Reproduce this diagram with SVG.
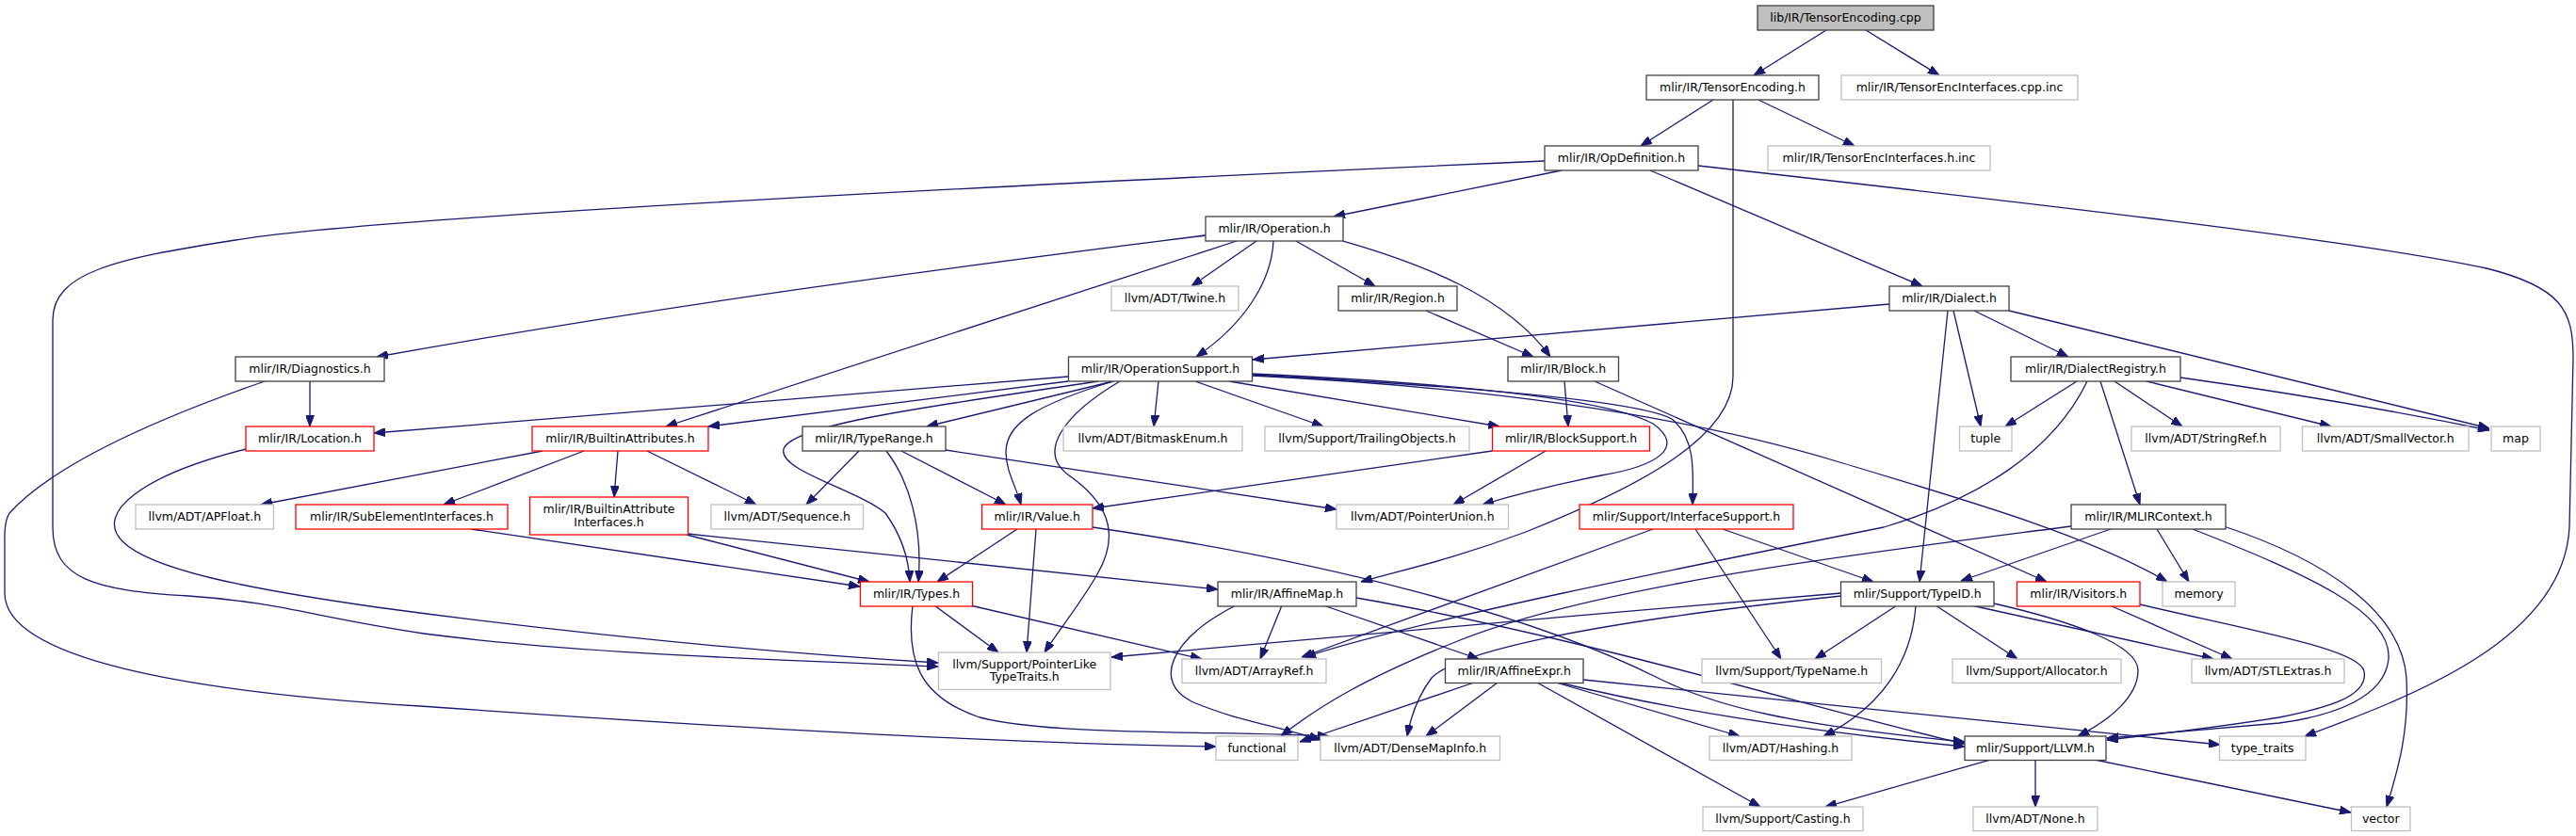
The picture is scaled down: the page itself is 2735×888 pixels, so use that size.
<svg xmlns="http://www.w3.org/2000/svg" width="2735" height="888" viewBox="0 0 2735 888">
<defs>
<style>
.n rect{fill:#fff;stroke:#404040;stroke-width:1.3}
.g rect{fill:#fff;stroke:#bfbfbf;stroke-width:1.3}
.r rect{fill:#fff;stroke:#ff0000;stroke-width:1.3}
.root rect{fill:#bfbfbf;stroke:#404040;stroke-width:1.3}
text{font-family:"DejaVu Sans","Liberation Sans",sans-serif;font-size:12.5px;fill:#000;text-anchor:middle}
#edges path{fill:none;stroke:#191970;stroke-width:1.3;marker-end:url(#a)}
</style>
<marker id="a" markerWidth="12" markerHeight="9" refX="12" refY="4.5" orient="auto" markerUnits="userSpaceOnUse"><path d="M0,0 L12,4.5 L0,9 z" fill="#191970" stroke="#191970" stroke-width="1"/></marker>
</defs>
<rect width="2735" height="888" fill="#fff"/>
<g id="edges">
<path d="M1939,32 L1862,80"/>
<path d="M1981,32 L2059,80"/>
<path d="M1819,106 L1742,155"/>
<path d="M1867,106 L1969,155"/>
<path d="M1840,106 L1840,400 C1840,470 1720,525 1620,565 C1540,595 1490,605 1445,618"/>
<path d="M1658,181 L1416,230"/>
<path d="M1752,181 L2041,304"/>
<path d="M1803,176 C2150,215 2500,255 2640,285 C2720,305 2732,330 2732,380 L2728,560 C2722,680 2560,740 2447,782"/>
<path d="M1640,171 C1100,195 400,230 250,255 C120,275 56,290 56,340 L56,560 C56,615 100,627 200,633 C300,640 330,655 450,673 C600,693 800,700 996,708"/>
<path d="M1280,250 C1000,285 700,325 400,379"/>
<path d="M1313,256 L707,453"/>
<path d="M1334,256 L1265,304"/>
<path d="M1352,256 C1350,300 1320,345 1270,379"/>
<path d="M1376,256 L1460,304"/>
<path d="M1426,256 C1510,280 1600,315 1646,379"/>
<path d="M1514,330 L1628,379"/>
<path d="M2006,323 L1330,382"/>
<path d="M2074,330 L2103,453"/>
<path d="M2096,330 L2196,379"/>
<path d="M2133,330 L2643,455"/>
<path d="M2068,330 L2038,618"/>
<path d="M2205,405 L2129,453"/>
<path d="M2245,405 L2317,453"/>
<path d="M2279,405 L2475,453"/>
<path d="M2315,401 C2450,420 2560,440 2643,457"/>
<path d="M2230,405 L2272,536"/>
<path d="M2216,405 C2180,480 2100,530 2000,560 C1800,600 1500,660 1385,698"/>
<path d="M329,405 L329,453"/>
<path d="M281,405 C180,440 60,490 10,545 C4,555 5,570 5,580 L5,630 C5,700 200,735 446,750 C800,775 1100,790 1291,793"/>
<path d="M261,477 C150,505 100,545 130,575 C160,605 260,625 400,645 C600,672 800,692 996,704"/>
<path d="M1134,400 L397,460"/>
<path d="M1134,405 L752,453"/>
<path d="M1182,405 L984,453"/>
<path d="M1166,405 C1000,430 840,450 832,477 C826,500 910,520 940,545 C958,570 965,595 966,618"/>
<path d="M1182,405 C1100,430 1068,450 1068,480 C1068,500 1078,515 1084,536"/>
<path d="M1189,405 C1130,440 1100,480 1135,505 C1185,540 1185,575 1165,610 C1148,640 1125,668 1109,693"/>
<path d="M1230,405 L1225,453"/>
<path d="M1269,405 L1405,453"/>
<path d="M1305,405 L1592,453"/>
<path d="M1329,397 C1500,405 1700,420 1755,450 C1790,475 1760,495 1700,505 C1650,515 1610,525 1574,536"/>
<path d="M1329,398 C1550,410 1740,425 1775,445 C1800,465 1798,500 1797,536"/>
<path d="M1329,399 C1600,412 1800,445 1950,490 C2100,535 2220,570 2301,618"/>
<path d="M1661,405 L1665,453"/>
<path d="M1693,405 L2173,618"/>
<path d="M1641,479 L1543,536"/>
<path d="M1584,479 L1160,540"/>
<path d="M912,479 L856,536"/>
<path d="M941,479 C965,510 980,560 975,618"/>
<path d="M957,479 L1068,536"/>
<path d="M1004,478 L1419,541"/>
<path d="M576,479 L277,536"/>
<path d="M620,479 L471,536"/>
<path d="M656,479 L652,528"/>
<path d="M687,479 L803,536"/>
<path d="M729,568 L923,618"/>
<path d="M730,567 L1293,626"/>
<path d="M500,562 L913,623"/>
<path d="M1080,562 L995,618"/>
<path d="M1100,562 L1090,693"/>
<path d="M1160,560 C1400,595 1620,650 1760,720 C1820,750 1900,770 2086,788"/>
<path d="M992,643 L1060,693"/>
<path d="M1030,643 L1276,700"/>
<path d="M969,643 C962,700 975,740 1040,762 C1120,782 1300,776 1411,782"/>
<path d="M1361,643 L1338,700"/>
<path d="M1312,643 C1240,680 1225,725 1265,745 C1310,765 1360,772 1402,786"/>
<path d="M1405,643 L1570,700"/>
<path d="M1440,635 C1700,680 1950,760 2086,790"/>
<path d="M1565,725 L1380,788"/>
<path d="M1590,725 L1514,782"/>
<path d="M1632,725 L1869,857"/>
<path d="M1652,725 L1847,782"/>
<path d="M1655,725 C1800,760 1950,780 2086,793"/>
<path d="M1681,722 L2357,791"/>
<path d="M1755,562 L1382,698"/>
<path d="M1800,562 L1891,700"/>
<path d="M1829,562 L1989,618"/>
<path d="M1955,630 C1700,650 1400,680 1180,698"/>
<path d="M1955,633 C1700,660 1550,690 1520,720 C1505,740 1498,760 1494,782"/>
<path d="M2014,643 L1927,700"/>
<path d="M2034,643 C2030,700 2000,750 1936,782"/>
<path d="M2055,643 L2142,700"/>
<path d="M2093,643 L2350,700"/>
<path d="M2117,641 C2200,660 2270,685 2270,712 C2270,740 2240,765 2206,782"/>
<path d="M2240,643 L2370,700"/>
<path d="M2272,642 C2400,672 2505,690 2510,713 C2515,740 2470,752 2420,762 C2350,773 2290,780 2237,786"/>
<path d="M2328,562 C2450,610 2540,650 2536,700 C2532,740 2480,760 2420,768 C2340,775 2280,780 2237,784"/>
<path d="M2361,559 C2470,595 2550,650 2555,720 C2558,780 2545,820 2534,857"/>
<path d="M2241,562 L2082,617"/>
<path d="M2290,562 L2324,618"/>
<path d="M2199,559 C2000,585 1700,620 1550,680 C1450,720 1400,750 1360,782"/>
<path d="M2161,807 L2161,857"/>
<path d="M2224,807 L2496,863"/>
<path d="M2113,807 L1938,857"/>
</g>
<g id="n_root" class="root"><rect x="1866" y="6" width="187" height="26"/><text x="1959.5" y="23">lib/IR/TensorEncoding.cpp</text></g>
<g id="n_teh" class="n"><rect x="1748" y="80" width="183" height="26"/><text x="1839.5" y="97">mlir/IR/TensorEncoding.h</text></g>
<g id="n_tcpp" class="g"><rect x="1955" y="80" width="251" height="26"/><text x="2080.5" y="97">mlir/IR/TensorEncInterfaces.cpp.inc</text></g>
<g id="n_opd" class="n"><rect x="1640" y="155" width="163" height="26"/><text x="1721.5" y="172">mlir/IR/OpDefinition.h</text></g>
<g id="n_thinc" class="g"><rect x="1877" y="155" width="236" height="26"/><text x="1995" y="172">mlir/IR/TensorEncInterfaces.h.inc</text></g>
<g id="n_op" class="n"><rect x="1280" y="230" width="146" height="26"/><text x="1353" y="247">mlir/IR/Operation.h</text></g>
<g id="n_dia" class="n"><rect x="2006" y="304" width="127" height="26"/><text x="2069.5" y="321">mlir/IR/Dialect.h</text></g>
<g id="n_reg" class="n"><rect x="1421" y="304" width="126" height="26"/><text x="1484" y="321">mlir/IR/Region.h</text></g>
<g id="n_twine" class="g"><rect x="1180" y="304" width="135" height="26"/><text x="1247.5" y="321">llvm/ADT/Twine.h</text></g>
<g id="n_diag" class="n"><rect x="250" y="379" width="158" height="26"/><text x="329" y="396">mlir/IR/Diagnostics.h</text></g>
<g id="n_os" class="n"><rect x="1134.5" y="379" width="195" height="26"/><text x="1232" y="396">mlir/IR/OperationSupport.h</text></g>
<g id="n_blk" class="n"><rect x="1601" y="379" width="117.5" height="26"/><text x="1659.75" y="396">mlir/IR/Block.h</text></g>
<g id="n_dr" class="n"><rect x="2135" y="379" width="180" height="26"/><text x="2225" y="396">mlir/IR/DialectRegistry.h</text></g>
<g id="n_loc" class="r"><rect x="261" y="453" width="136" height="26"/><text x="329" y="470">mlir/IR/Location.h</text></g>
<g id="n_ba" class="r"><rect x="565" y="453" width="187" height="26"/><text x="658.5" y="470">mlir/IR/BuiltinAttributes.h</text></g>
<g id="n_tr" class="n"><rect x="852" y="453" width="152" height="26"/><text x="928" y="470">mlir/IR/TypeRange.h</text></g>
<g id="n_bme" class="g"><rect x="1129" y="453" width="190" height="26"/><text x="1224" y="470">llvm/ADT/BitmaskEnum.h</text></g>
<g id="n_tro" class="g"><rect x="1343" y="453" width="217" height="26"/><text x="1451.5" y="470">llvm/Support/TrailingObjects.h</text></g>
<g id="n_bs" class="r"><rect x="1584.5" y="453" width="167" height="26"/><text x="1668" y="470">mlir/IR/BlockSupport.h</text></g>
<g id="n_tuple" class="g"><rect x="2080.5" y="453" width="55.5" height="26"/><text x="2108.25" y="470">tuple</text></g>
<g id="n_sref" class="g"><rect x="2263" y="453" width="158" height="26"/><text x="2342" y="470">llvm/ADT/StringRef.h</text></g>
<g id="n_svec" class="g"><rect x="2444.5" y="453" width="176.5" height="26"/><text x="2532.75" y="470">llvm/ADT/SmallVector.h</text></g>
<g id="n_map" class="g"><rect x="2645" y="453" width="52" height="26"/><text x="2671" y="470">map</text></g>
<g id="n_apf" class="g"><rect x="144" y="536" width="146.5" height="26"/><text x="217.25" y="553">llvm/ADT/APFloat.h</text></g>
<g id="n_sei" class="r"><rect x="314" y="536" width="225" height="26"/><text x="426.5" y="553">mlir/IR/SubElementInterfaces.h</text></g>
<g id="n_bai" class="r"><rect x="562.5" y="528" width="168" height="40"/><text x="646.5" y="545">mlir/IR/BuiltinAttribute</text><text x="646.5" y="558.5">Interfaces.h</text></g>
<g id="n_seq" class="g"><rect x="755" y="536" width="161.5" height="26"/><text x="835.75" y="553">llvm/ADT/Sequence.h</text></g>
<g id="n_val" class="r"><rect x="1042.5" y="536" width="117.5" height="26"/><text x="1101.25" y="553">mlir/IR/Value.h</text></g>
<g id="n_pu" class="g"><rect x="1419" y="536" width="182.5" height="26"/><text x="1510.25" y="553">llvm/ADT/PointerUnion.h</text></g>
<g id="n_is" class="r"><rect x="1677" y="536" width="227" height="26"/><text x="1790.5" y="553">mlir/Support/InterfaceSupport.h</text></g>
<g id="n_mlc" class="n"><rect x="2199" y="536" width="164" height="26"/><text x="2281" y="553">mlir/IR/MLIRContext.h</text></g>
<g id="n_types" class="r"><rect x="913.5" y="618" width="119" height="26"/><text x="973" y="635">mlir/IR/Types.h</text></g>
<g id="n_am" class="n"><rect x="1293" y="618" width="147" height="26"/><text x="1366.5" y="635">mlir/IR/AffineMap.h</text></g>
<g id="n_tid" class="n"><rect x="1954.5" y="618" width="162.5" height="26"/><text x="2035.75" y="635">mlir/Support/TypeID.h</text></g>
<g id="n_vis" class="r"><rect x="2141.5" y="618" width="130.5" height="26"/><text x="2206.75" y="635">mlir/IR/Visitors.h</text></g>
<g id="n_mem" class="g"><rect x="2296" y="618" width="77" height="26"/><text x="2334.5" y="635">memory</text></g>
<g id="n_plt" class="g"><rect x="996.5" y="693" width="182.5" height="39.5"/><text x="1087.75" y="709.5">llvm/Support/PointerLike</text><text x="1087.75" y="723">TypeTraits.h</text></g>
<g id="n_aref" class="g"><rect x="1255" y="700" width="153" height="25.5"/><text x="1331.5" y="717">llvm/ADT/ArrayRef.h</text></g>
<g id="n_ae" class="n"><rect x="1534.5" y="700" width="146.5" height="25.5"/><text x="1607.75" y="717">mlir/IR/AffineExpr.h</text></g>
<g id="n_tname" class="g"><rect x="1807" y="700" width="190.5" height="25.5"/><text x="1902.25" y="717">llvm/Support/TypeName.h</text></g>
<g id="n_alloc" class="g"><rect x="2073" y="700" width="179" height="25.5"/><text x="2162.5" y="717">llvm/Support/Allocator.h</text></g>
<g id="n_stl" class="g"><rect x="2327" y="700" width="162" height="25.5"/><text x="2408" y="717">llvm/ADT/STLExtras.h</text></g>
<g id="n_func" class="g"><rect x="1291" y="782" width="87" height="25.5"/><text x="1334.5" y="799">functional</text></g>
<g id="n_dmi" class="g"><rect x="1402" y="782" width="190.5" height="25.5"/><text x="1497.25" y="799">llvm/ADT/DenseMapInfo.h</text></g>
<g id="n_hash" class="g"><rect x="1815" y="782" width="151" height="25.5"/><text x="1890.5" y="799">llvm/ADT/Hashing.h</text></g>
<g id="n_llvm" class="n"><rect x="2086" y="782" width="150" height="25.5"/><text x="2161" y="799">mlir/Support/LLVM.h</text></g>
<g id="n_tt" class="g"><rect x="2356.5" y="782" width="91.5" height="25.5"/><text x="2402.25" y="799">type_traits</text></g>
<g id="n_cast" class="g"><rect x="1808" y="857" width="170" height="25.5"/><text x="1893" y="874">llvm/Support/Casting.h</text></g>
<g id="n_none" class="g"><rect x="2095" y="857" width="132" height="25.5"/><text x="2161" y="874">llvm/ADT/None.h</text></g>
<g id="n_vec" class="g"><rect x="2496.5" y="857" width="62.5" height="25.5"/><text x="2527.75" y="874">vector</text></g>
</svg>
